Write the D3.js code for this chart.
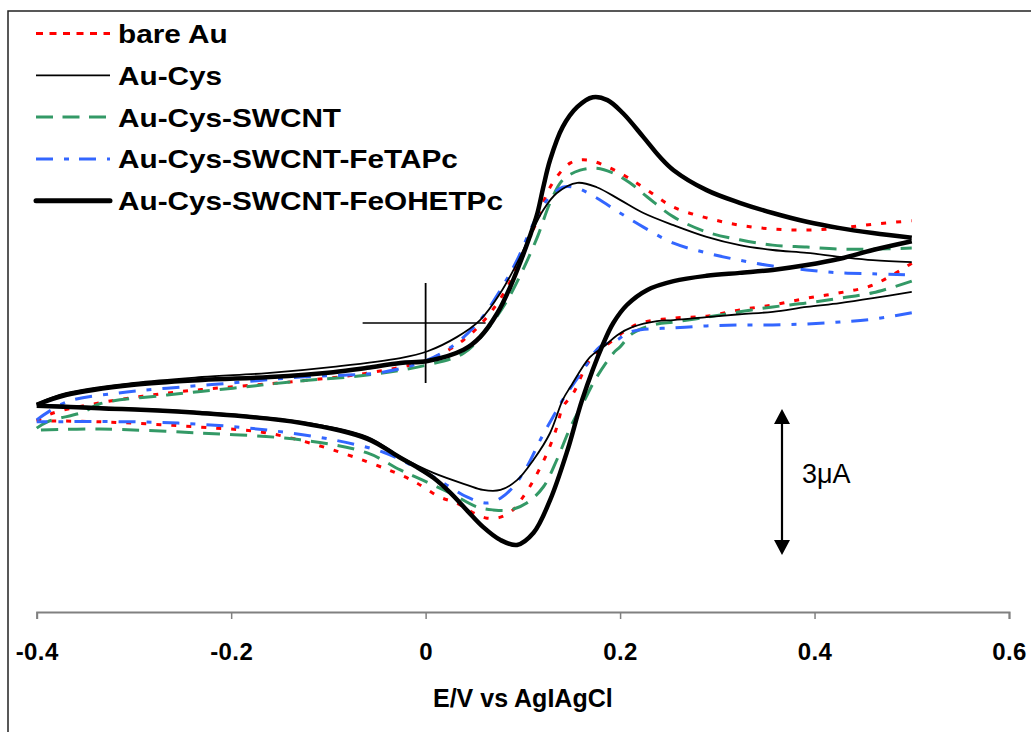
<!DOCTYPE html>
<html>
<head>
<meta charset="utf-8">
<script src="https://cdn.jsdelivr.net/npm/d3@7"></script>
<style>
  html, body { margin: 0; padding: 0; background: #fff; }
  svg { display: block; }
  text { font-family: "Liberation Sans", Arial, sans-serif; }
</style>
</head>
<body>
<svg id="chart" width="1031" height="732"></svg>
<script>
// ---------- DATA (E in V vs Ag|AgCl, I in µA) ----------
const seriesNames = ["bare Au", "Au-Cys", "Au-Cys-SWCNT", "Au-Cys-SWCNT-FeTAPc", "Au-Cys-SWCNT-FeOHETPc"];
const xTicks = [-0.4, -0.2, 0, 0.2, 0.4, 0.6];
const xTitle = "E/V vs AgIAgCl";
const scaleBarLabel = "3\u03BCA";
const scaleBarCurrent = 3;

// bare Au
const bareAuForward = [[-0.40,-2.01],[-0.383,-1.85],[-0.335,-1.64],[-0.266,-1.44],[-0.198,-1.31],[-0.129,-1.19],[-0.06,-1.03],[0.002,-0.76],[0.039,-0.35],[0.063,0.12],[0.084,0.74],[0.10,1.44],[0.115,2.12],[0.128,2.79],[0.149,3.29],[0.166,3.35],[0.187,3.21],[0.207,3.00],[0.228,2.73],[0.255,2.38],[0.289,2.16],[0.323,2.01],[0.357,1.93],[0.392,1.91],[0.426,1.95],[0.46,2.03],[0.50,2.10]];
const bareAuReverse = [[0.50,1.23],[0.46,0.78],[0.426,0.62],[0.392,0.51],[0.357,0.37],[0.323,0.27],[0.289,0.14],[0.255,0.10],[0.221,0.00],[0.207,-0.14],[0.193,-0.35],[0.169,-0.76],[0.152,-1.44],[0.141,-1.73],[0.135,-2.14],[0.125,-2.67],[0.111,-3.23],[0.10,-3.58],[0.09,-3.84],[0.077,-3.99],[0.063,-4.01],[0.049,-3.90],[0.032,-3.70],[0.015,-3.58],[-0.009,-3.29],[-0.026,-3.12],[-0.095,-2.61],[-0.163,-2.26],[-0.232,-2.14],[-0.335,-2.03],[-0.40,-2.01]];

// Au-Cys
const auCysForward = [[-0.40,-1.66],[-0.37,-1.44],[-0.30,-1.23],[-0.23,-1.11],[-0.163,-1.03],[-0.095,-0.90],[-0.026,-0.72],[0.002,-0.58],[0.032,-0.29],[0.056,0.06],[0.077,0.62],[0.094,1.23],[0.107,1.77],[0.121,2.32],[0.135,2.67],[0.156,2.88],[0.176,2.79],[0.20,2.53],[0.224,2.26],[0.255,2.01],[0.289,1.77],[0.323,1.60],[0.357,1.50],[0.392,1.44],[0.426,1.36],[0.46,1.29],[0.50,1.25]];
const auCysReverse = [[0.50,0.64],[0.46,0.51],[0.426,0.41],[0.392,0.33],[0.357,0.23],[0.323,0.18],[0.289,0.12],[0.255,0.06],[0.238,0.04],[0.213,-0.08],[0.197,-0.25],[0.183,-0.49],[0.169,-0.70],[0.149,-1.31],[0.141,-1.58],[0.128,-2.26],[0.111,-2.81],[0.094,-3.23],[0.077,-3.43],[0.059,-3.43],[0.043,-3.33],[0.008,-3.08],[-0.026,-2.75],[-0.06,-2.34],[-0.129,-2.03],[-0.232,-1.83],[-0.335,-1.73],[-0.40,-1.68]];

// Au-Cys-SWCNT
const swcntForward = [[-0.40,-2.16],[-0.389,-2.03],[-0.352,-1.83],[-0.335,-1.66],[-0.266,-1.48],[-0.198,-1.34],[-0.129,-1.19],[-0.06,-1.07],[0.002,-0.86],[0.039,-0.62],[0.063,-0.14],[0.084,0.47],[0.10,1.09],[0.115,1.77],[0.128,2.47],[0.141,2.94],[0.159,3.14],[0.176,3.18],[0.193,3.08],[0.21,2.88],[0.228,2.59],[0.255,2.18],[0.289,1.87],[0.323,1.71],[0.357,1.60],[0.392,1.56],[0.426,1.52],[0.46,1.52],[0.50,1.54]];
const swcntReverse = [[0.50,0.86],[0.46,0.62],[0.426,0.51],[0.392,0.41],[0.357,0.33],[0.323,0.23],[0.289,0.12],[0.255,0.02],[0.238,-0.02],[0.213,-0.21],[0.20,-0.49],[0.193,-0.62],[0.176,-1.11],[0.162,-1.64],[0.149,-2.14],[0.135,-2.81],[0.121,-3.37],[0.104,-3.70],[0.087,-3.84],[0.069,-3.84],[0.053,-3.78],[0.025,-3.49],[-0.003,-3.23],[-0.026,-3.02],[-0.06,-2.67],[-0.129,-2.40],[-0.232,-2.26],[-0.335,-2.18],[-0.40,-2.20]];

// Au-Cys-SWCNT-FeTAPc
const feTAPcForward = [[-0.40,-1.99],[-0.369,-1.62],[-0.317,-1.44],[-0.266,-1.34],[-0.198,-1.23],[-0.129,-1.11],[-0.044,-1.01],[0.002,-0.76],[0.032,-0.41],[0.056,0.06],[0.077,0.68],[0.094,1.29],[0.111,2.05],[0.125,2.53],[0.141,2.79],[0.156,2.77],[0.176,2.57],[0.20,2.26],[0.224,1.97],[0.255,1.64],[0.289,1.44],[0.323,1.29],[0.357,1.17],[0.392,1.09],[0.426,1.03],[0.46,1.01],[0.493,0.99]];
const feTAPcReverse = [[0.50,0.21],[0.46,0.08],[0.426,0.02],[0.392,-0.02],[0.357,-0.04],[0.323,-0.04],[0.289,-0.06],[0.255,-0.10],[0.221,-0.14],[0.207,-0.21],[0.197,-0.35],[0.179,-0.49],[0.162,-0.97],[0.141,-1.58],[0.131,-1.93],[0.118,-2.40],[0.104,-2.96],[0.09,-3.37],[0.077,-3.60],[0.063,-3.70],[0.043,-3.58],[0.025,-3.37],[0.008,-3.16],[-0.026,-2.81],[-0.044,-2.65],[-0.095,-2.40],[-0.163,-2.20],[-0.232,-2.08],[-0.301,-2.03],[-0.40,-2.03]];

// Au-Cys-SWCNT-FeOHETPc
const feOHETPcForward = [[-0.40,-1.68],[-0.37,-1.48],[-0.30,-1.27],[-0.23,-1.17],[-0.16,-1.11],[-0.095,-1.01],[-0.06,-0.92],[-0.026,-0.82],[0.002,-0.78],[0.039,-0.55],[0.056,-0.29],[0.074,0.21],[0.087,0.74],[0.097,1.23],[0.107,1.77],[0.115,2.26],[0.121,2.79],[0.128,3.35],[0.141,4.03],[0.156,4.44],[0.172,4.64],[0.187,4.58],[0.203,4.31],[0.224,3.82],[0.241,3.41],[0.255,3.14],[0.289,2.73],[0.323,2.47],[0.357,2.26],[0.392,2.08],[0.426,1.95],[0.46,1.85],[0.50,1.75]];
const feOHETPcReverse = [[0.50,1.68],[0.46,1.50],[0.426,1.32],[0.392,1.19],[0.357,1.09],[0.323,1.03],[0.289,0.97],[0.255,0.86],[0.228,0.68],[0.207,0.37],[0.193,0.00],[0.183,-0.41],[0.161,-1.58],[0.146,-2.61],[0.128,-3.64],[0.111,-4.31],[0.094,-4.56],[0.077,-4.46],[0.059,-4.19],[0.043,-3.86],[0.025,-3.48],[0.008,-3.18],[-0.009,-2.96],[-0.026,-2.77],[-0.06,-2.38],[-0.129,-2.05],[-0.232,-1.85],[-0.335,-1.75],[-0.40,-1.70]];

// ---------- STYLES ----------
const styles = [
  {color:"#ff0000", width:3,   dash:"5,10", legendDash:"7,6.5"},
  {color:"#000000", width:1.8, dash:null,   legendDash:null},
  {color:"#339966", width:3,   dash:"17,10", legendDash:"17,9.5"},
  {color:"#3366ff", width:3,   dash:"17,11,5,11", legendDash:"17,11,5,10"},
  {color:"#000000", width:4.5, dash:null,   legendDash:null, legendWidth:5}
];
const seriesData = [
  [bareAuForward, bareAuReverse],
  [auCysForward, auCysReverse],
  [swcntForward, swcntReverse],
  [feTAPcForward, feTAPcReverse],
  [feOHETPcForward, feOHETPcReverse]
];

// ---------- CHART ----------
const svg = d3.select("#chart");
const x = d3.scaleLinear().domain([-0.4, 0.6]).range([36.7, 1009]);
const y = d3.scaleLinear().domain([0, 3]).range([323, 177]);
const axisY = 612;

// outer frame
svg.append("rect").attr("x", 8).attr("y", 11).attr("width", 1100).attr("height", 800)
  .attr("fill", "none").attr("stroke", "#222").attr("stroke-width", 1.5);

// x axis
const xAxis = d3.axisBottom(x).tickValues(xTicks).tickSize(7).tickFormat(d => String(d));
const gx = svg.append("g").attr("transform", `translate(0,${axisY})`).call(xAxis);
gx.select(".domain").attr("stroke", "#808080").attr("stroke-width", 2);
gx.selectAll(".tick line").attr("stroke", "#808080").attr("stroke-width", 1.5);
gx.selectAll(".tick text").attr("y", 48).attr("dy", 0)
  .attr("font-family", "'Liberation Sans', Arial, sans-serif")
  .attr("font-size", 24).attr("font-weight", "bold").attr("fill", "#000")
  .attr("letter-spacing", 0.4);

svg.append("text").attr("x", (x(-0.4) + x(0.6)) / 2).attr("y", 707)
  .attr("text-anchor", "middle").attr("font-size", 25).attr("font-weight", "bold")
  .text(xTitle);

// crosshair at origin
svg.append("line").attr("x1", x(0) - 63).attr("x2", x(0) + 60).attr("y1", y(0)).attr("y2", y(0))
  .attr("stroke", "#000").attr("stroke-width", 1.5);
svg.append("line").attr("x1", x(0)).attr("x2", x(0)).attr("y1", y(0) - 40).attr("y2", y(0) + 60)
  .attr("stroke", "#000").attr("stroke-width", 1.8);

// curves
const line = d3.line().x(d => x(d[0])).y(d => y(d[1])).curve(d3.curveCatmullRom.alpha(0.5));
const order = [0, 2, 3, 1, 4];
order.forEach(i => {
  const st = styles[i];
  seriesData[i].forEach(branch => {
    svg.append("path").datum(branch).attr("d", line)
      .attr("fill", "none").attr("stroke", st.color).attr("stroke-width", st.width)
      .attr("stroke-dasharray", st.dash).attr("stroke-linejoin", "round");
  });
});

// scale bar
const sbX = 782;
const sbTop = 409, sbBot = sbTop + (y(0) - y(scaleBarCurrent));
svg.append("line").attr("x1", sbX).attr("x2", sbX).attr("y1", sbTop + 10).attr("y2", sbBot - 10)
  .attr("stroke", "#000").attr("stroke-width", 2.2);
svg.append("path").attr("d", `M${sbX},${sbTop} L${sbX-8},${sbTop+15} L${sbX+8},${sbTop+15} Z`).attr("fill", "#000");
svg.append("path").attr("d", `M${sbX},${sbBot} L${sbX-8},${sbBot-15} L${sbX+8},${sbBot-15} Z`).attr("fill", "#000");
svg.append("text").attr("x", 802).attr("y", 483).attr("font-size", 27).attr("fill", "#000").text(scaleBarLabel);

// legend
const legRow0 = 33.5, legStep = 41.8;
seriesNames.forEach((name, i) => {
  const st = styles[i];
  const ly = legRow0 + i * legStep;
  svg.append("line").attr("x1", 36).attr("x2", 110).attr("y1", ly).attr("y2", ly)
    .attr("stroke", st.color).attr("stroke-width", st.legendWidth || st.width)
    .attr("stroke-dasharray", st.legendDash).attr("stroke-linecap", i === 4 ? "round" : "butt");
  svg.append("text").attr("transform", `translate(118,${ly + 9.5}) scale(1.19,1)`)
    .attr("font-size", 25).attr("font-weight", "bold")
    .text(name);
});
</script>
</body>
</html>
